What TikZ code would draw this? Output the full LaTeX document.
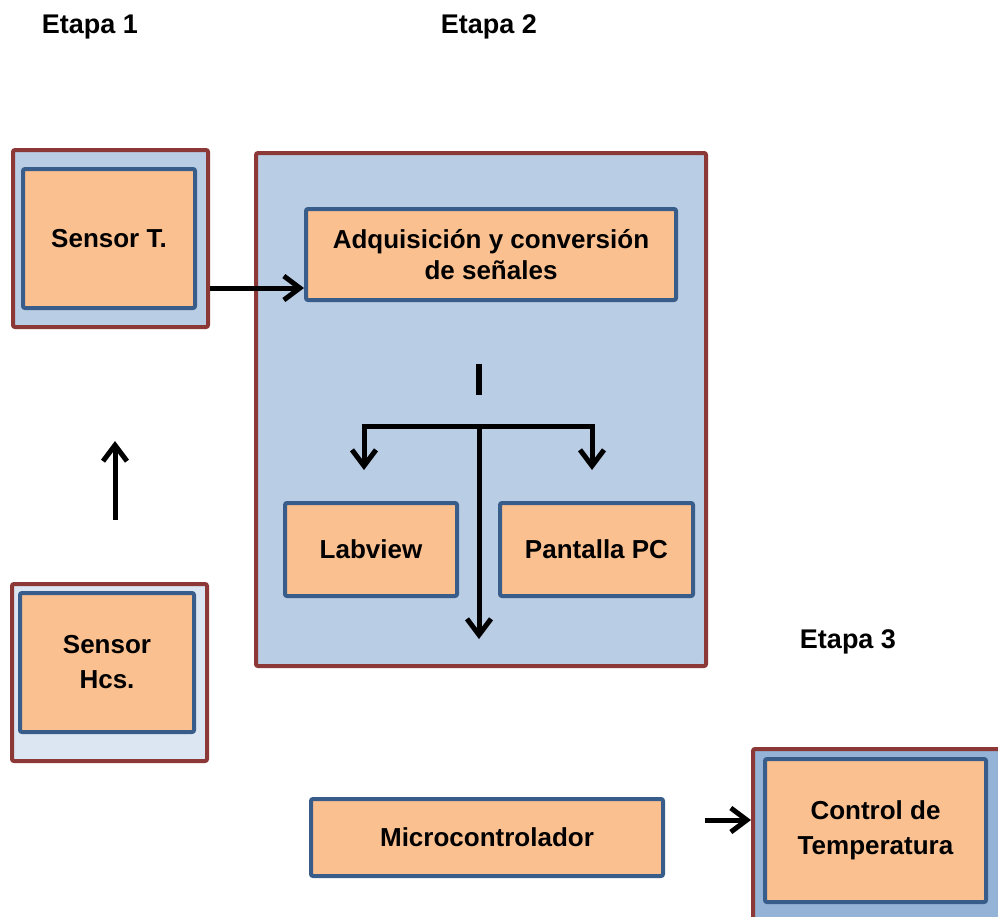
\documentclass[tikz,border=0pt]{standalone}
\usepackage{fontspec}
\setmainfont{Liberation Sans}
\usetikzlibrary{arrows.meta,positioning,calc}
\definecolor{cRed}{RGB}{140,56,54}
\definecolor{cEdge}{RGB}{56,93,138}
\definecolor{cPeach}{RGB}{250,192,144}
\definecolor{cBlue}{RGB}{185,205,229}
\definecolor{cPale}{RGB}{220,230,242}
\definecolor{cMid}{RGB}{149,179,215}

\begin{document}
\begin{tikzpicture}[x=1pt,y=-1pt,
    stage/.style={draw=cRed,line width=4pt,fill=cBlue,rounded corners=2pt,inner sep=0pt},
    block/.style={draw=cEdge,line width=4pt,fill=cPeach,rounded corners=2pt,inner sep=0pt,
                  align=center,font=\bfseries\fontsize{26}{35}\selectfont},
    link/.style={line width=5pt,-{Straight Barb[length=16pt,width=24pt]}},
    lbl/.style={font=\bfseries\fontsize{27}{32}\selectfont}]
  \clip (0,0) rectangle (998,916);

  % stage titles
  \node[lbl] (e1) at (90,27) {Etapa 1};
  \node[lbl] (e2) at (489,27) {Etapa 2};
  \node[lbl] (e3) at (848,642) {Etapa 3};

  % stage 1: sensors
  \node[stage,minimum width=195pt,minimum height=177pt] (sensTbox) at (110.5,238.5) {};
  \node[block,minimum width=172pt,minimum height=139pt] (sensT) at (109,238.5) {Sensor T.};
  \node[stage,fill=cPale,minimum width=195pt,minimum height=177pt] (sensHbox) at (109.5,672.5) {};
  \node[block,minimum width=174pt,minimum height=139pt] (sensH) at (107,662.5) {Sensor\\Hcs.};

  % stage 2: acquisition and display
  \node[stage,minimum width=450pt,minimum height=513pt] (acqBox) at (481,409.5) {};
  \node[block,minimum width=370pt,minimum height=91pt,font=\bfseries\fontsize{26}{31}\selectfont]
    (adq) at (491,254.5) {Adquisición y conversión\\de señales};
  \node[block,minimum width=172pt,minimum height=93pt] (lab) at (371,549.5) {Labview};
  \node[block,minimum width=193pt,minimum height=93pt] (pc) at (596.5,549.5) {Pantalla PC};

  % stage 3: control
  \node[block,minimum width=352pt,minimum height=77pt] (micro) at (487,837.5) {Microcontrolador};
  \node[stage,fill=cMid,anchor=north west,minimum width=270pt,minimum height=190pt]
    (ctrlBox) at (751,747) {};
  \node[block,minimum width=221pt,minimum height=143pt] (ctrl) at (875.5,830.5) {Control de\\Temperatura};

  % connectors
  \coordinate (tOut) at ([yshift=-49.5pt]sensTbox.east);
  \draw[link] (tOut) -- (tOut -| adq.west);

  \coordinate (hUp0) at (115,520);
  \coordinate (hUp1) at (115,441);
  \draw[link] (hUp0) -- (hUp1);

  \draw[line width=6pt] (479,364) -- (479,395);
  \coordinate (split) at (479,426);
  \coordinate (labIn) at (364,470);
  \coordinate (pcIn) at (592,470);
  \coordinate (down) at (479,639);
  \draw[link] (split) -| (labIn);
  \draw[link] (split) -| (pcIn);
  \draw[link] (split) -- (down);

  \coordinate (mOut) at (705,820);
  \draw[link] (mOut) -- (mOut -| ctrlBox.west);
\end{tikzpicture}
\end{document}
